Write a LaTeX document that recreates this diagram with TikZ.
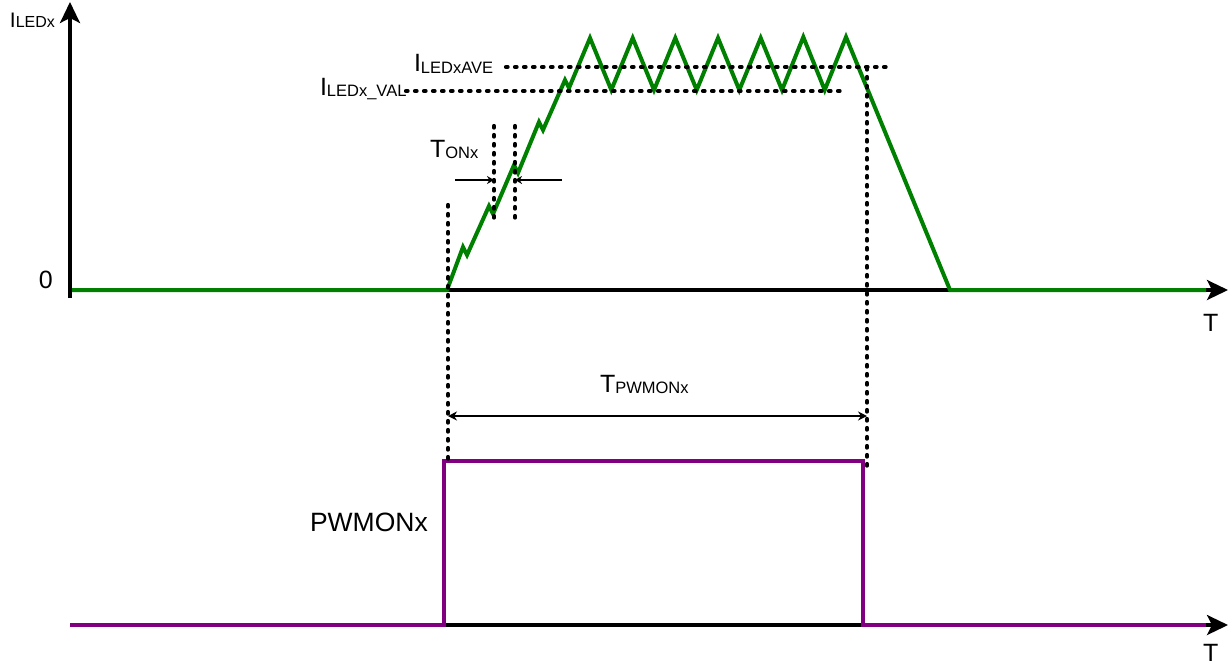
\documentclass[tikz,border=0pt]{standalone}
\usepackage{fontspec}
\setmainfont{Liberation Sans}
\usetikzlibrary{arrows.meta}
\definecolor{sgreen}{RGB}{0,128,0}
\definecolor{spurple}{RGB}{128,0,128}
\newcommand{\mysub}[2]{\raisebox{#1}{\fontsize{8.25}{10}\selectfont #2}}
\begin{document}
\begin{tikzpicture}[x=0.5pt,y=-0.5pt,
  axis/.style={line width=1.6pt,-{Stealth[length=10.5pt,width=10pt,inset=2.5pt]}},
  greenline/.style={sgreen,line width=2pt,line join=miter},
  purpleline/.style={spurple,line width=1.8pt,line join=miter},
  dotline/.style={line width=2.1pt,line cap=round,dash pattern=on 0.8pt off 3.7pt},
  lbl/.style={inner sep=0pt,outer sep=0pt,anchor=base west,font=\fontsize{12.5}{14}\selectfont}
]
\useasboundingbox (0,0) rectangle (1230,666);

% coordinates
\coordinate (o1) at (70,290);
\coordinate (x1) at (1228,290);
\coordinate (yb) at (70,298);
\coordinate (yt) at (70,2);
\coordinate (o2) at (70,625);
\coordinate (x2) at (1228,625);

% axes
\draw[axis] (o1) -- (x1);
\draw[axis] (o2) -- (x2);

% green current waveform
\draw[greenline] (70,290) -- (447,290) -- (463,247) -- (467,255) -- (489,206) -- (493,214)
  -- (514,165) -- (518,173) -- (539,122) -- (543,130) -- (565,80) -- (569,88) -- (590,38)
  -- (611.3,90) -- (632.7,38) -- (654,90) -- (675.3,38) -- (696.7,90) -- (718,38)
  -- (739.3,90) -- (760.7,38) -- (782,90) -- (803.3,37) -- (824.7,90) -- (846,37)
  -- (950,290) -- (1206,290);

% purple PWM signal
\draw[purpleline] (70,625) -- (444,625) -- (444,461) -- (863,461) -- (863,625) -- (1206,625);

% y axis
\draw[axis] (yb) -- (yt);

% dotted lines
\coordinate (aveL) at (506,67);
\coordinate (aveR) at (892,67);
\coordinate (valL) at (406,91);
\coordinate (valR) at (843,91);
\coordinate (v1t) at (448,205);
\coordinate (v1b) at (448,459);
\coordinate (v2t) at (867,68);
\coordinate (v2b) at (867,466);
\coordinate (t1t) at (494,126);
\coordinate (t1b) at (494,218);
\coordinate (t2t) at (515,126);
\coordinate (t2b) at (515,218);
\draw[dotline] (aveL) -- (aveR);
\draw[dotline] (valL) -- (valR);
\draw[dotline] (v1t) -- (v1b);
\draw[dotline] (v2t) -- (v2b);
\draw[dotline] (t1t) -- (t1b);
\draw[dotline] (t2t) -- (t2b);

% TONx arrows
\coordinate (a1s) at (455,180);
\coordinate (a1e) at (494,180);
\coordinate (a2s) at (562,180);
\coordinate (a2e) at (515,180);
\draw[line width=0.75pt,-{Stealth[length=3.5pt,width=4pt]}] (a1s) -- (a1e);
\draw[line width=0.75pt,-{Stealth[length=3.5pt,width=4pt]}] (a2s) -- (a2e);

% TPWMONx arrow
\coordinate (pwL) at (448,416);
\coordinate (pwR) at (867,416);
\draw[line width=0.75pt,{Stealth[length=4.5pt,width=4.5pt]}-{Stealth[length=4.5pt,width=4.5pt]}] (pwL) -- (pwR);

% labels
\node[lbl,font=\fontsize{10.5}{12}\selectfont] (lI) at (10,27) {I\raisebox{-0.3pt}{\fontsize{8}{9}\selectfont LEDx}};
\node[lbl] (lave) at (414,71.5) {I\mysub{-0.8pt}{LEDxAVE}};
\node[lbl] (lval) at (320,95) {I\mysub{-0.8pt}{LEDx\_VAL}};
\node[lbl] (lton) at (430,157) {T\mysub{-0.8pt}{ONx}};
\node[lbl] (ltpw) at (600,392) {T\mysub{-0.8pt}{PWMONx}};
\node[lbl,font=\fontsize{13.25}{15}\selectfont] (lpwm) at (310,531) {PWMONx};
\node[lbl] (lzero) at (39,288) {0};
\node[lbl] (lT1) at (1203,331) {T};
\node[lbl] (lT2) at (1203,661) {T};
\end{tikzpicture}
\end{document}
